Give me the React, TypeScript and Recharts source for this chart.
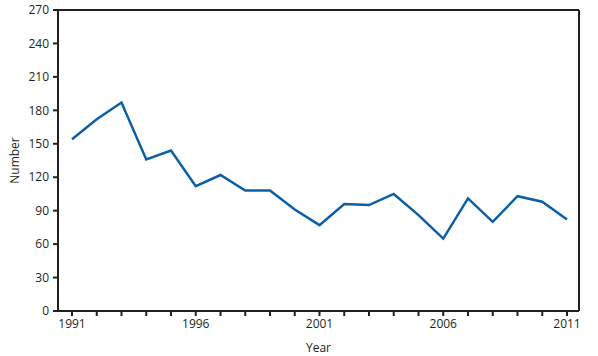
import React from 'react';
import { LineChart, Line, XAxis, YAxis } from 'recharts';

const years = [1991, 1992, 1993, 1994, 1995, 1996, 1997, 1998, 1999, 2000, 2001, 2002, 2003, 2004, 2005, 2006, 2007, 2008, 2009, 2010, 2011];
const counts = [154, 172, 187, 136, 144, 112, 122, 108, 108, 91, 77, 96, 95, 105, 86, 65, 101, 80, 103, 98, 82];
const labeledYears = [1991, 1996, 2001, 2006, 2011];
const yTicks = [0, 30, 60, 90, 120, 150, 180, 210, 240, 270];

const data = years.map((y, i) => ({ year: y, value: counts[i] }));

const FONT = '"Open Sans", sans-serif';
const INK = '#231f20';

export default function App() {
  return (
    <div style={{ position: 'absolute', left: 0, top: 0, width: 598, height: 356, background: '#fff' }}>
      <LineChart width={598} height={356} data={data} margin={{ top: 9, right: 18, bottom: 15, left: 18 }}>
        <XAxis
          dataKey="year"
          type="number"
          domain={[1991, 2011]}
          ticks={years}
          interval={0}
          padding={{ left: 14, right: 12 }}
          tickFormatter={(v: number) => (labeledYears.includes(v) ? String(v) : '')}
          tickSize={5}
          tickMargin={3}
          height={30}
          axisLine={{ stroke: INK, strokeWidth: 2 }}
          tickLine={{ stroke: INK, strokeWidth: 2 }}
          tick={{ fill: INK, fontSize: 12, fontFamily: FONT }}
          label={{ value: 'Year', position: 'insideBottom', offset: -11, fill: INK, fontSize: 12, fontFamily: FONT }}
        />
        <XAxis
          xAxisId="top"
          orientation="top"
          dataKey="year"
          type="number"
          domain={[1991, 2011]}
          height={1}
          tick={false}
          tickLine={false}
          axisLine={{ stroke: INK, strokeWidth: 2 }}
        />
        <YAxis
          type="number"
          domain={[0, 270]}
          ticks={yTicks}
          interval={0}
          width={40}
          tickSize={5}
          tickMargin={4}
          axisLine={{ stroke: INK, strokeWidth: 2 }}
          tickLine={{ stroke: INK, strokeWidth: 2 }}
          tick={{ fill: INK, fontSize: 12, fontFamily: FONT }}
          label={{ value: 'Number', angle: -90, position: 'insideLeft', offset: -3, fill: INK, fontSize: 12, fontFamily: FONT, style: { textAnchor: 'middle' } }}
        />
        <YAxis
          yAxisId="right"
          orientation="right"
          type="number"
          domain={[0, 270]}
          width={1}
          tick={false}
          tickLine={false}
          axisLine={{ stroke: INK, strokeWidth: 2 }}
        />
        <Line
          xAxisId="top"
          yAxisId="right"
          type="linear"
          dataKey="value"
          stroke="none"
          strokeWidth={0}
          dot={false}
          activeDot={false}
          isAnimationActive={false}
        />
        <Line
          type="linear"
          dataKey="value"
          stroke="#0b5ea8"
          strokeWidth={2.5}
          dot={false}
          isAnimationActive={false}
        />
      </LineChart>
    </div>
  );
}
